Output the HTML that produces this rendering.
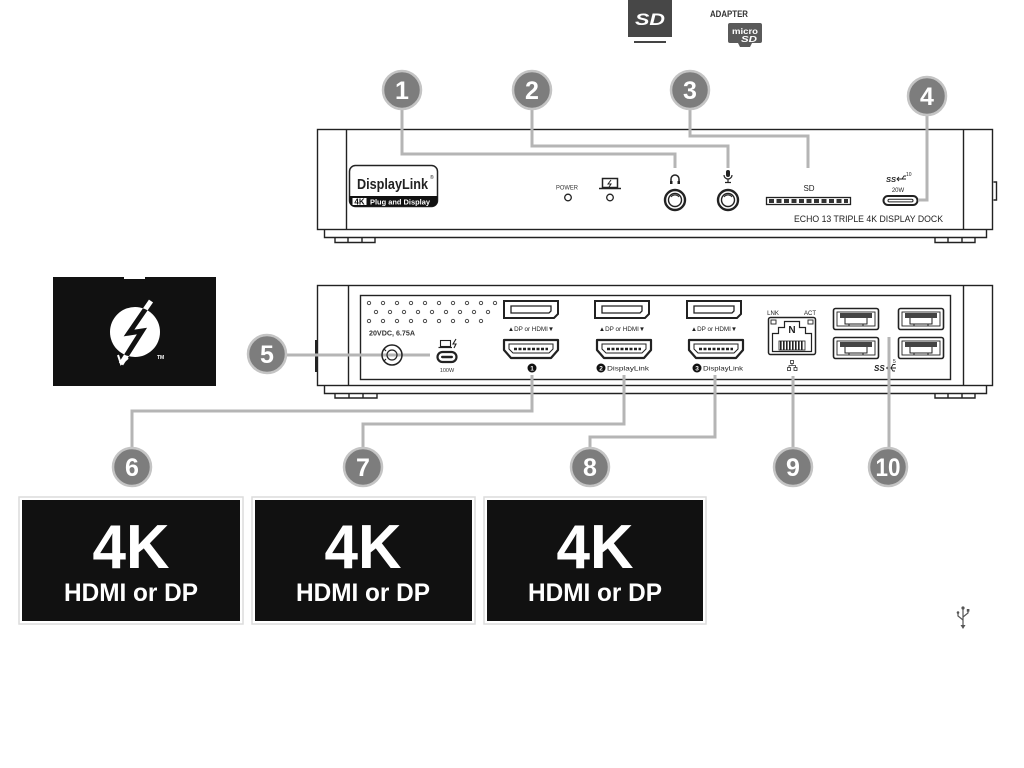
<!DOCTYPE html>
<html><head><meta charset="utf-8">
<style>
html,body{margin:0;padding:0;background:#fff;}
svg{display:block;}
text{font-family:"Liberation Sans",sans-serif;}
</style></head><body>
<svg width="1024" height="768" viewBox="0 0 1024 768" xmlns="http://www.w3.org/2000/svg">
<defs>
<clipPath id="tbc"><circle cx="135" cy="332" r="25"/></clipPath>
</defs>
<rect width="1024" height="768" fill="#fff"/>

<!-- top SD / microSD icons -->
<rect x="628" y="0" width="44" height="37" fill="#474747"/>
<text x="650" y="25" font-size="17" font-weight="bold" font-style="italic" fill="#fff" text-anchor="middle" textLength="30" lengthAdjust="spacingAndGlyphs">SD</text>
<line x1="634" y1="42" x2="666" y2="42" stroke="#444" stroke-width="2"/>
<text x="729" y="17" font-size="9" font-weight="bold" fill="#333" text-anchor="middle" textLength="38" lengthAdjust="spacingAndGlyphs">ADAPTER</text>
<path d="M730 23 H760 Q762 23 762 25 V41 Q762 43 760 43 H752 L750 47 H740 L738 43 H730 Q728 43 728 41 V25 Q728 23 730 23 Z" fill="#5a5a5a"/>
<text x="745" y="34" font-size="8" font-weight="bold" fill="#fff" text-anchor="middle" textLength="26" lengthAdjust="spacingAndGlyphs">micro</text>
<text x="749" y="42" font-size="8" font-weight="bold" font-style="italic" fill="#fff" text-anchor="middle" textLength="16" lengthAdjust="spacingAndGlyphs">SD</text>

<!-- FRONT DOCK -->
<g stroke="#222" stroke-width="1.4" fill="none">
<rect x="317.5" y="129.5" width="675" height="100"/>
<line x1="346.5" y1="129.5" x2="346.5" y2="229.5"/>
<line x1="963.5" y1="129.5" x2="963.5" y2="229.5"/>
<path d="M324.5 229.5 V237.5 H986.5 V229.5"/>
<path d="M335 237.5 V242.5 H375 V237.5 M348 237.5 V242.5 M362 237.5 V242.5"/>
<path d="M935 237.5 V242.5 H975 V237.5 M948 237.5 V242.5 M962 237.5 V242.5"/>
<path d="M993.5 182 H996.5 V200 H993.5"/>
</g>

<!-- DisplayLink badge -->
<rect x="349.5" y="165.5" width="88" height="41" rx="6" fill="#fff" stroke="#222" stroke-width="1.5"/>
<path d="M349.5 196 H437.5 V201 Q437.5 206.5 432 206.5 H355 Q349.5 206.5 349.5 201 Z" fill="#111"/>
<rect x="352" y="197.5" width="15" height="8" fill="#fff" stroke="#111" stroke-width="1"/>
<text x="359.5" y="204.6" font-size="8" font-weight="bold" fill="#111" text-anchor="middle">4K</text>
<text x="370" y="204.3" font-size="7" font-weight="bold" fill="#fff" textLength="60" lengthAdjust="spacingAndGlyphs">Plug and Display</text>
<text x="357" y="189" font-size="14.5" font-weight="bold" fill="#222" textLength="71" lengthAdjust="spacingAndGlyphs">DisplayLink</text>
<text x="430" y="179" font-size="5" fill="#222">®</text>

<!-- power / laptop LEDs -->
<text x="567" y="189.5" font-size="6.5" fill="#333" text-anchor="middle" textLength="22" lengthAdjust="spacingAndGlyphs">POWER</text>
<circle cx="568" cy="197.5" r="3.3" fill="none" stroke="#222" stroke-width="1.3"/>
<rect x="602.5" y="178.5" width="15" height="9" fill="none" stroke="#222" stroke-width="1.5"/>
<line x1="599" y1="188.5" x2="621" y2="188.5" stroke="#222" stroke-width="1.6"/>
<path d="M611 180 L608 184 H611 L609 187" stroke="#222" stroke-width="1" fill="none"/>
<circle cx="610" cy="197.5" r="3.3" fill="none" stroke="#222" stroke-width="1.3"/>

<!-- headphone -->
<path d="M671 183 V179 A4 4 0 0 1 679 179 V183" fill="none" stroke="#222" stroke-width="1.5"/>
<rect x="670" y="181" width="2.5" height="3" fill="#222"/><rect x="677.5" y="181" width="2.5" height="3" fill="#222"/>
<circle cx="675" cy="200" r="10" fill="none" stroke="#222" stroke-width="2.4"/>
<circle cx="675" cy="200" r="6.5" fill="none" stroke="#222" stroke-width="1.4"/>
<path d="M671 197 A5 5 0 0 1 679 197" fill="none" stroke="#222" stroke-width="1"/>
<!-- mic -->
<rect x="726" y="170" width="4" height="7" rx="2" fill="#222"/>
<path d="M724 175 A4 4 0 0 0 732 175 M728 179 V182 M725 182.5 H731" fill="none" stroke="#222" stroke-width="1.2"/>
<circle cx="728" cy="200" r="10" fill="none" stroke="#222" stroke-width="2.4"/>
<circle cx="728" cy="200" r="6.5" fill="none" stroke="#222" stroke-width="1.4"/>
<path d="M724 197 A5 5 0 0 1 732 197" fill="none" stroke="#222" stroke-width="1"/>

<!-- SD slot -->
<text x="809" y="191" font-size="8" fill="#222" text-anchor="middle">SD</text>
<rect x="766.5" y="197.5" width="84" height="7" fill="#fff" stroke="#222" stroke-width="1.3"/>
<line x1="769" y1="201" x2="848" y2="201" stroke="#333" stroke-width="4" stroke-dasharray="5 2.5"/>

<!-- front USB-C -->
<text x="886" y="182" font-size="7.5" font-weight="bold" font-style="italic" fill="#222">SS</text>
<path d="M897 179 H906 M899 177 L897 179 L899 181 M902 179 L904 176 H906" fill="none" stroke="#222" stroke-width="0.9"/>
<text x="906" y="176" font-size="5" fill="#222">10</text>
<text x="898" y="192" font-size="6" fill="#222" text-anchor="middle">20W</text>
<rect x="883.5" y="196" width="34" height="9" rx="4.5" fill="none" stroke="#222" stroke-width="2"/>
<rect x="888" y="199.3" width="25" height="2.6" rx="1.3" fill="none" stroke="#222" stroke-width="1"/>

<text x="794" y="222" font-size="9.5" fill="#222" textLength="149" lengthAdjust="spacingAndGlyphs">ECHO 13 TRIPLE 4K DISPLAY DOCK</text>

<!-- BACK DOCK -->
<g stroke="#222" stroke-width="1.4" fill="none">
<rect x="317.5" y="285.5" width="675" height="100"/>
<line x1="348.5" y1="285.5" x2="348.5" y2="385.5"/>
<line x1="963.5" y1="285.5" x2="963.5" y2="385.5"/>
<rect x="360.5" y="295.5" width="590" height="84"/>
<path d="M324.5 385.5 V393.5 H986.5 V385.5"/>
<path d="M335 393.5 V398 H377 V393.5 M349 393.5 V398 M363 393.5 V398"/>
<path d="M935 393.5 V398 H975 V393.5 M948 393.5 V398 M962 393.5 V398"/>
</g>
<rect x="315" y="340" width="2.5" height="32" fill="#222"/>

<!-- vent dots -->
<g fill="none" stroke="#444" stroke-width="0.9">
<circle cx="369" cy="303" r="1.7"/><circle cx="383" cy="303" r="1.7"/><circle cx="397" cy="303" r="1.7"/><circle cx="411" cy="303" r="1.7"/><circle cx="425" cy="303" r="1.7"/><circle cx="439" cy="303" r="1.7"/><circle cx="453" cy="303" r="1.7"/><circle cx="467" cy="303" r="1.7"/><circle cx="481" cy="303" r="1.7"/><circle cx="495" cy="303" r="1.7"/>
<circle cx="376" cy="312" r="1.7"/><circle cx="390" cy="312" r="1.7"/><circle cx="404" cy="312" r="1.7"/><circle cx="418" cy="312" r="1.7"/><circle cx="432" cy="312" r="1.7"/><circle cx="446" cy="312" r="1.7"/><circle cx="460" cy="312" r="1.7"/><circle cx="474" cy="312" r="1.7"/><circle cx="488" cy="312" r="1.7"/>
<circle cx="369" cy="321" r="1.7"/><circle cx="383" cy="321" r="1.7"/><circle cx="397" cy="321" r="1.7"/><circle cx="411" cy="321" r="1.7"/><circle cx="425" cy="321" r="1.7"/><circle cx="439" cy="321" r="1.7"/><circle cx="453" cy="321" r="1.7"/><circle cx="467" cy="321" r="1.7"/><circle cx="481" cy="321" r="1.7"/>
</g>
<text x="369" y="335.5" font-size="7.5" font-weight="bold" fill="#333" textLength="46" lengthAdjust="spacingAndGlyphs">20VDC, 6.75A</text>

<!-- callout line 5 (under jack) -->
<path d="M287 355 H430" stroke="#b5b5b5" stroke-width="3" fill="none"/>
<!-- barrel jack -->
<circle cx="392" cy="355" r="10" fill="none" stroke="#222" stroke-width="1.5"/>
<circle cx="392" cy="355" r="5" fill="none" stroke="#222" stroke-width="1.2"/>
<path d="M384 349 L386 351 M384 361 L386 359" stroke="#222" stroke-width="1.2"/>

<!-- back USB-C -->
<rect x="440.5" y="340.5" width="10" height="6" fill="none" stroke="#222" stroke-width="1.1"/>
<line x1="438.5" y1="347.5" x2="452" y2="347.5" stroke="#222" stroke-width="1.2"/>
<path d="M456 339 L453 344 H456 L454 348" stroke="#222" stroke-width="1.1" fill="none"/>
<rect x="437.5" y="352" width="19" height="10" rx="5" fill="none" stroke="#222" stroke-width="2.2"/>
<rect x="441" y="355.8" width="12" height="2.4" rx="1.2" fill="#222"/>
<text x="447" y="372" font-size="5.5" fill="#333" text-anchor="middle">100W</text>

<!-- DP ports -->
<g fill="none" stroke="#222" stroke-width="2">
<path d="M504 301 H558 V314 L554 318 H504 Z"/>
<path d="M595 301 H649 V314 L645 318 H595 Z"/>
<path d="M687 301 H741 V314 L737 318 H687 Z"/>
</g>
<g fill="none" stroke="#222" stroke-width="1.3">
<path d="M511 306 H551 V311 L549 313 H511 Z"/>
<path d="M602 306 H642 V311 L640 313 H602 Z"/>
<path d="M694 306 H734 V311 L732 313 H694 Z"/>
</g>
<g font-size="6.3" fill="#222" text-anchor="middle">
<text x="531" y="331">▲DP or HDMI▼</text>
<text x="622" y="331">▲DP or HDMI▼</text>
<text x="714" y="331">▲DP or HDMI▼</text>
</g>

<!-- HDMI ports -->
<g fill="none" stroke="#222" stroke-width="2.2" stroke-linejoin="round">
<path d="M504 340 H558 V350 L551 358 H511 L504 350 Z"/>
<path d="M597 340 H651 V350 L644 358 H604 L597 350 Z"/>
<path d="M689 340 H743 V350 L736 358 H696 L689 350 Z"/>
</g>
<g fill="none" stroke="#222" stroke-width="1">
<path d="M509 344 H553 V349 L549 353 H513 L509 349 Z"/>
<path d="M602 344 H646 V349 L642 353 H606 L602 349 Z"/>
<path d="M694 344 H738 V349 L734 353 H698 L694 349 Z"/>
</g>
<g stroke="#222" stroke-width="2.5" stroke-dasharray="3 1.5">
<line x1="514" y1="349" x2="548" y2="349"/>
<line x1="607" y1="349" x2="641" y2="349"/>
<line x1="699" y1="349" x2="733" y2="349"/>
</g>

<!-- HDMI labels -->
<circle cx="532" cy="368" r="4.5" fill="#111"/>
<text x="532" y="370.5" font-size="6.5" font-weight="bold" fill="#fff" text-anchor="middle">1</text>
<circle cx="601" cy="368" r="4.5" fill="#111"/>
<text x="601" y="370.5" font-size="6.5" font-weight="bold" fill="#fff" text-anchor="middle">2</text>
<text x="607" y="370.5" font-size="6.5" fill="#222" textLength="42" lengthAdjust="spacingAndGlyphs">DisplayLink</text>
<circle cx="697" cy="368" r="4.5" fill="#111"/>
<text x="697" y="370.5" font-size="6.5" font-weight="bold" fill="#fff" text-anchor="middle">3</text>
<text x="703" y="370.5" font-size="6.5" fill="#222" textLength="40" lengthAdjust="spacingAndGlyphs">DisplayLink</text>

<!-- RJ45 -->
<text x="773" y="315" font-size="6" fill="#222" text-anchor="middle">LNK</text>
<text x="810" y="315" font-size="6" fill="#222" text-anchor="middle">ACT</text>
<rect x="768.5" y="317.5" width="47" height="37" rx="2" fill="none" stroke="#222" stroke-width="1.5"/>
<rect x="771" y="320" width="5" height="4" fill="none" stroke="#222" stroke-width="0.9"/>
<rect x="808" y="320" width="5" height="4" fill="none" stroke="#222" stroke-width="0.9"/>
<path d="M772.5 351.5 V333.5 H778.5 V327.5 H784.5 V321.5 H799.5 V327.5 H805.5 V333.5 H811.5 V351.5 Z" fill="none" stroke="#222" stroke-width="1.2"/>
<text x="792" y="333" font-size="10" font-weight="bold" fill="#222" text-anchor="middle">N</text>
<rect x="779" y="341" width="26" height="9" fill="#fff" stroke="#222" stroke-width="0.8"/>
<line x1="780" y1="345.5" x2="804" y2="345.5" stroke="#222" stroke-width="9" stroke-dasharray="1.6 1.4"/>
<g fill="none" stroke="#333" stroke-width="0.8">
<rect x="790.5" y="360.5" width="3" height="3"/><rect x="787.5" y="367.5" width="3" height="3"/><rect x="794" y="367.5" width="3" height="3"/>
<path d="M792 363.5 V365.5 H789 V367.5 M792 365.5 H795.5 V367.5"/>
</g>

<!-- USB-A ports -->
<g fill="none" stroke="#222">
<rect x="833.5" y="308.5" width="45" height="21" rx="2" stroke-width="1.6"/>
<rect x="898.5" y="308.5" width="45" height="21" rx="2" stroke-width="1.6"/>
<rect x="833.5" y="337.5" width="45" height="21" rx="2" stroke-width="1.6"/>
<rect x="898.5" y="337.5" width="45" height="21" rx="2" stroke-width="1.6"/>
<rect x="837" y="312" width="38" height="14" stroke-width="0.9"/>
<rect x="902" y="312" width="38" height="14" stroke-width="0.9"/>
<rect x="837" y="341" width="38" height="14" stroke-width="0.9"/>
<rect x="902" y="341" width="38" height="14" stroke-width="0.9"/>
</g>
<g fill="#444">
<rect x="840" y="313" width="32" height="5"/><rect x="905" y="313" width="32" height="5"/>
<rect x="840" y="342" width="32" height="5"/><rect x="905" y="342" width="32" height="5"/>
</g>
<g stroke="#222" stroke-width="1" fill="none">
<path d="M845 318 V324 H867 V318 M849 324 V326 M863 324 V326"/>
<path d="M910 318 V324 H932 V318 M914 324 V326 M928 324 V326"/>
<path d="M845 347 V353 H867 V347 M849 353 V355 M863 353 V355"/>
<path d="M910 347 V353 H932 V347 M914 353 V355 M928 353 V355"/>
</g>
<text x="874" y="371" font-size="8" font-weight="bold" font-style="italic" fill="#222">SS</text>
<path d="M886 368 H896 M889 365 L887 368 L889 371 M891 368 L893 364.5 H895.5 M891 368 L893 371 H895" fill="none" stroke="#222" stroke-width="0.9"/>
<text x="893" y="363" font-size="5" fill="#222">5</text>

<!-- THUNDERBOLT BOX -->
<rect x="53" y="277" width="163" height="109" fill="#111"/>
<rect x="124" y="276" width="21" height="3" fill="#fff"/>
<path d="M151 301 L129 333 L142 331 L121 364" fill="none" stroke="#fff" stroke-width="5" stroke-linejoin="miter"/>
<circle cx="135" cy="332" r="25" fill="#fff"/>
<path d="M151 301 L129 333 L142 331 L121 364" fill="none" stroke="#111" stroke-width="5" clip-path="url(#tbc)"/>
<path d="M118 355 L121 364 L128 358" fill="none" stroke="#fff" stroke-width="2"/>
<text x="157" y="359" font-size="5" font-weight="bold" fill="#fff">TM</text>

<!-- MONITORS -->
<g fill="#fff" stroke="#dcdcdc" stroke-width="1.5">
<rect x="19" y="497" width="224" height="127"/>
<rect x="252" y="497" width="223" height="127"/>
<rect x="484" y="497" width="222" height="127"/>
</g>
<g fill="#111">
<rect x="22" y="500" width="218" height="121"/>
<rect x="255" y="500" width="217" height="121"/>
<rect x="487" y="500" width="216" height="121"/>
</g>
<g fill="#fff" font-weight="bold" text-anchor="middle">
<text x="131" y="568" font-size="62" textLength="77" lengthAdjust="spacingAndGlyphs">4K</text>
<text x="131" y="601" font-size="25" textLength="134" lengthAdjust="spacingAndGlyphs">HDMI or DP</text>
<text x="363" y="568" font-size="62" textLength="77" lengthAdjust="spacingAndGlyphs">4K</text>
<text x="363" y="601" font-size="25" textLength="134" lengthAdjust="spacingAndGlyphs">HDMI or DP</text>
<text x="595" y="568" font-size="62" textLength="77" lengthAdjust="spacingAndGlyphs">4K</text>
<text x="595" y="601" font-size="25" textLength="134" lengthAdjust="spacingAndGlyphs">HDMI or DP</text>
</g>

<!-- USB icon bottom right -->
<g stroke="#555" stroke-width="1.2" fill="none">
<line x1="963" y1="609" x2="963" y2="626"/>
<path d="M963 620 L958 616 V613 M963 617 L968 613 V611"/>
</g>
<circle cx="963" cy="608" r="1.6" fill="#555"/>
<circle cx="958" cy="612.5" r="1.3" fill="#555"/>
<rect x="966.8" y="609" width="2.6" height="2.6" fill="#555"/>
<path d="M960.5 625 L963 629 L965.5 625 Z" fill="#555"/>

<!-- CALLOUT LINES -->
<g stroke="#b5b5b5" stroke-width="3" fill="none">
<path d="M402 109 V154 H675 V168"/>
<path d="M532 109 V146 H728 V168"/>
<path d="M690 109 V136 H808 V168"/>
<path d="M927 115 V200 H918"/>
<path d="M532 375 V411 H132 V447"/>
<path d="M624 375 V424 H363 V447"/>
<path d="M715 375 V437 H590 V447"/>
<path d="M793 376 V447"/>
<path d="M889 337 V447"/>
</g>

<!-- CALLOUT CIRCLES -->
<g fill="#7d7d7d" stroke="#c4c4c4" stroke-width="2.5">
<circle cx="402" cy="90" r="19"/>
<circle cx="532" cy="90" r="19"/>
<circle cx="690" cy="90" r="19"/>
<circle cx="927" cy="96" r="19"/>
<circle cx="267" cy="354" r="19"/>
<circle cx="132" cy="467" r="19"/>
<circle cx="363" cy="467" r="19"/>
<circle cx="590" cy="467" r="19"/>
<circle cx="793" cy="467" r="19"/>
<circle cx="888" cy="467" r="19"/>
</g>
<g fill="#fff" font-weight="bold" font-size="25" text-anchor="middle">
<text x="402" y="99">1</text>
<text x="532" y="99">2</text>
<text x="690" y="99">3</text>
<text x="927" y="105">4</text>
<text x="267" y="363">5</text>
<text x="132" y="476">6</text>
<text x="363" y="476">7</text>
<text x="590" y="476">8</text>
<text x="793" y="476">9</text>
<text x="888" y="476" textLength="25" lengthAdjust="spacingAndGlyphs">10</text>
</g>
</svg>
</body></html>
